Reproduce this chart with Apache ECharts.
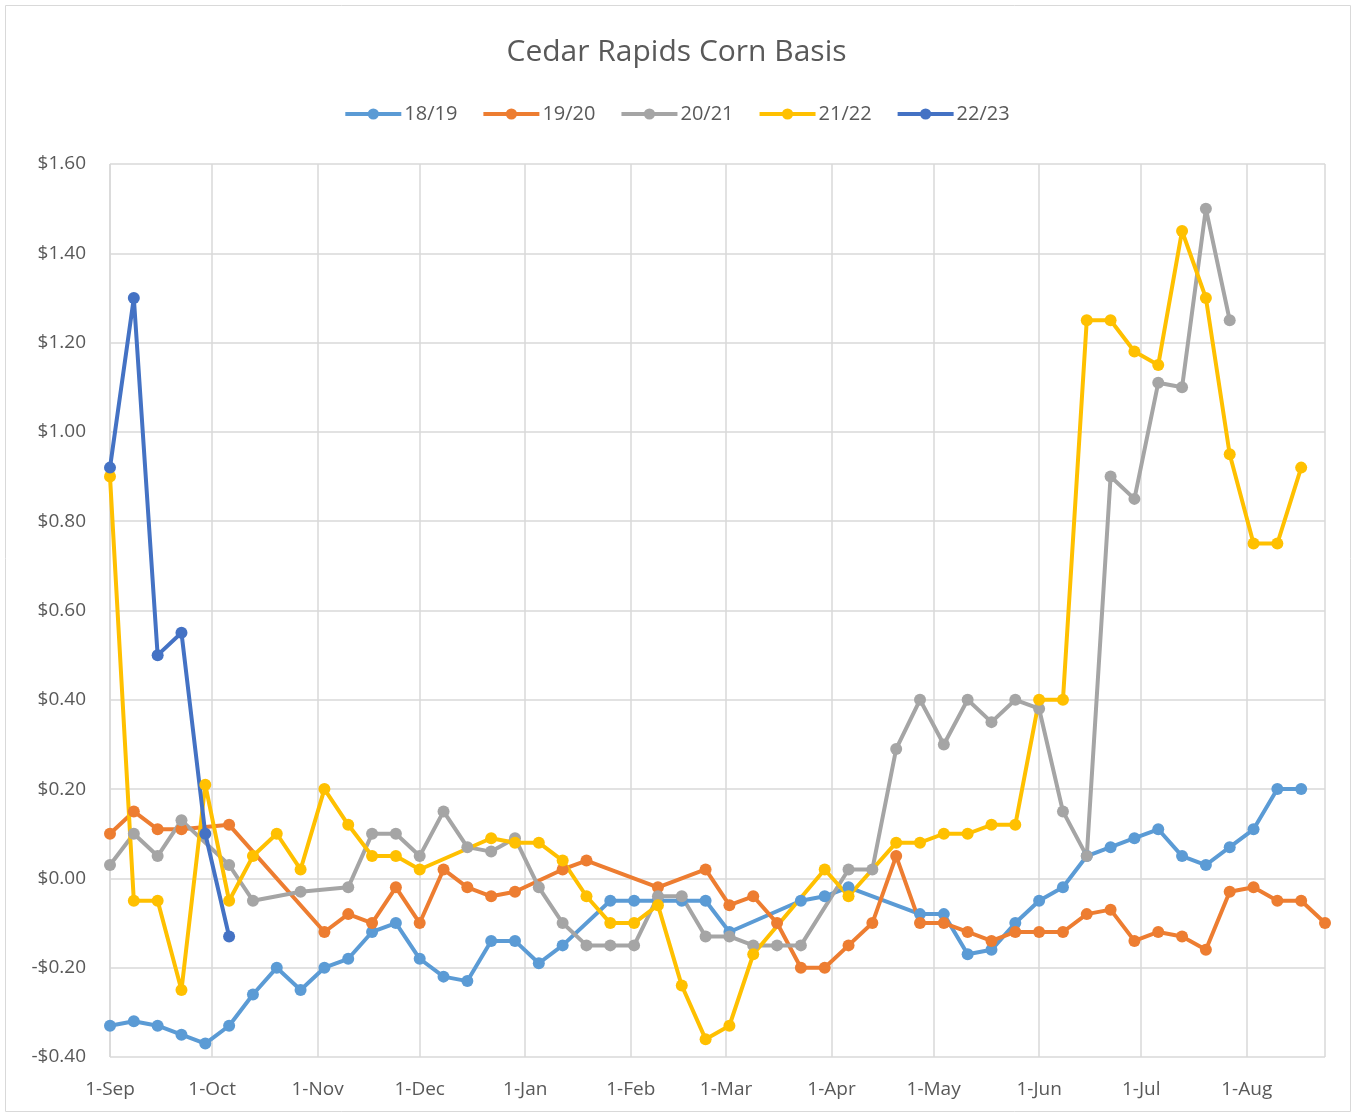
<!DOCTYPE html>
<html>
<head>
<meta charset="utf-8">
<title>Cedar Rapids Corn Basis</title>
<script src="https://cdn.jsdelivr.net/npm/echarts@6/dist/echarts.min.js"></script>
<style>
  html, body { margin: 0; padding: 0; background: #fff; }
  #chart { width: 1353px; height: 1117px; }
</style>
</head>
<body>
<div id="chart"></div>
<script>
// weekly dates, plotted on one marketing year (Sep - Aug)
const weeks = [
  '2018-09-01', '2018-09-08', '2018-09-15', '2018-09-22', '2018-09-29',
  '2018-10-06', '2018-10-13', '2018-10-20', '2018-10-27',
  '2018-11-03', '2018-11-10', '2018-11-17', '2018-11-24',
  '2018-12-01', '2018-12-08', '2018-12-15', '2018-12-22', '2018-12-29',
  '2019-01-05', '2019-01-12', '2019-01-19', '2019-01-26',
  '2019-02-02', '2019-02-09', '2019-02-16', '2019-02-23',
  '2019-03-02', '2019-03-09', '2019-03-16', '2019-03-23', '2019-03-30',
  '2019-04-06', '2019-04-13', '2019-04-20', '2019-04-27',
  '2019-05-04', '2019-05-11', '2019-05-18', '2019-05-25',
  '2019-06-01', '2019-06-08', '2019-06-15', '2019-06-22', '2019-06-29',
  '2019-07-06', '2019-07-13', '2019-07-20', '2019-07-27',
  '2019-08-03', '2019-08-10', '2019-08-17', '2019-08-24'
];
const monthNames = ['Jan', 'Feb', 'Mar', 'Apr', 'May', 'Jun', 'Jul', 'Aug', 'Sep', 'Oct', 'Nov', 'Dec'];

const seasons = ['18/19', '19/20', '20/21', '21/22', '22/23'];
const colors = ['#5B9BD5', '#ED7D31', '#A5A5A5', '#FFC000', '#4472C4'];

// basis in $/bu, null = no quote that week
const basis1819 = [
  -0.33, -0.32, -0.33, -0.35, -0.37,
  -0.33, -0.26, -0.20, -0.25,
  -0.20, -0.18, -0.12, -0.10,
  -0.18, -0.22, -0.23, -0.14, -0.14,
  -0.19, -0.15, null, -0.05,
  -0.05, -0.05, -0.05, -0.05,
  -0.12, null, null, -0.05, -0.04,
  -0.02, null, null, -0.08,
  -0.08, -0.17, -0.16, -0.10,
  -0.05, -0.02, 0.05, 0.07, 0.09,
  0.11, 0.05, 0.03, 0.07,
  0.11, 0.20, 0.20, null
];
const basis1920 = [
  0.10, 0.15, 0.11, 0.11, null,
  0.12, null, null, null,
  -0.12, -0.08, -0.10, -0.02,
  -0.10, 0.02, -0.02, -0.04, -0.03,
  null, 0.02, 0.04, null,
  null, -0.02, null, 0.02,
  -0.06, -0.04, -0.10, -0.20, -0.20,
  -0.15, -0.10, 0.05, -0.10,
  -0.10, -0.12, -0.14, -0.12,
  -0.12, -0.12, -0.08, -0.07, -0.14,
  -0.12, -0.13, -0.16, -0.03,
  -0.02, -0.05, -0.05, -0.10
];
const basis2021 = [
  0.03, 0.10, 0.05, 0.13, null,
  0.03, -0.05, null, -0.03,
  null, -0.02, 0.10, 0.10,
  0.05, 0.15, 0.07, 0.06, 0.09,
  -0.02, -0.10, -0.15, -0.15,
  -0.15, -0.04, -0.04, -0.13,
  -0.13, -0.15, -0.15, -0.15, null,
  0.02, 0.02, 0.29, 0.40,
  0.30, 0.40, 0.35, 0.40,
  0.38, 0.15, 0.05, 0.90, 0.85,
  1.11, 1.10, 1.50, 1.25,
  null, null, null, null
];
const basis2122 = [
  0.90, -0.05, -0.05, -0.25, 0.21,
  -0.05, 0.05, 0.10, 0.02,
  0.20, 0.12, 0.05, 0.05,
  0.02, null, null, 0.09, 0.08,
  0.08, 0.04, -0.04, -0.10,
  -0.10, -0.06, -0.24, -0.36,
  -0.33, -0.17, null, null, 0.02,
  -0.04, null, 0.08, 0.08,
  0.10, 0.10, 0.12, 0.12,
  0.40, 0.40, 1.25, 1.25, 1.18,
  1.15, 1.45, 1.30, 0.95,
  0.75, 0.75, 0.92, null
];
const basis2223 = [0.92, 1.30, 0.50, 0.55, 0.10, -0.13];

const seriesValues = [basis1819, basis1920, basis2021, basis2122, basis2223];

const chart = echarts.init(document.getElementById('chart'));
const font = "'Open Sans', 'Noto Sans', sans-serif";
const textColor = '#595959';

const toPoints = (vals) => {
  const pts = [];
  vals.forEach((v, i) => {
    if (v !== null) pts.push([weeks[i], v]);
  });
  return pts;
};

const money = (v) => {
  const r = Math.round(v * 100) / 100;
  return (r < 0 ? '-$' : '$') + Math.abs(r).toFixed(2);
};

const option = {
  color: colors,
  animation: false,
  textStyle: { fontFamily: font },
  title: {
    text: 'Cedar Rapids Corn Basis',
    left: 'center',
    top: 32,
    textStyle: { fontFamily: font, fontSize: 30, fontWeight: 'normal', color: textColor },
  },
  legend: {
    top: 99,
    left: 'center',
    itemWidth: 56,
    itemHeight: 14,
    itemGap: 24,
    lineStyle: { width: 4 },
    textStyle: { fontFamily: font, fontSize: 20, color: textColor, padding: [0, 0, 0, -2] },
    data: seasons,
  },
  graphic: [
    {
      type: 'rect',
      silent: true,
      shape: { x: 5.5, y: 5.5, width: 1345, height: 1106 },
      style: { fill: 'none', stroke: '#d9d9d9', lineWidth: 1 },
    },
  ],
  grid: {
    left: 110,
    right: 28,
    top: 164,
    bottom: 60,
    containLabel: false,
  },
  xAxis: {
    type: 'time',
    min: weeks[0],
    max: weeks[weeks.length - 1],
    minInterval: 28 * 24 * 3600 * 1000,
    maxInterval: 31 * 24 * 3600 * 1000,
    axisLine: { show: false },
    axisTick: { show: false },
    splitLine: { show: true, lineStyle: { color: '#d9d9d9', width: 1.5 } },
    axisLabel: {
      fontFamily: font,
      fontSize: 19,
      color: textColor,
      margin: 23,
      showMaxLabel: false,
      formatter: (value) => {
        const d = new Date(value);
        return d.getDate() + '-' + monthNames[d.getMonth()];
      },
    },
  },
  yAxis: {
    type: 'value',
    min: -0.4,
    max: 1.6,
    interval: 0.2,
    axisLine: { show: false },
    axisTick: { show: false },
    splitLine: { show: true, lineStyle: { color: '#d9d9d9', width: 1.5 } },
    axisLabel: {
      fontFamily: font,
      fontSize: 19,
      color: textColor,
      margin: 24,
      formatter: money,
    },
  },
  series: seasons.map((name, i) => ({
    name: name,
    type: 'line',
    data: toPoints(seriesValues[i]),
    symbol: 'circle',
    symbolSize: 12,
    lineStyle: { width: 4 },
    itemStyle: { color: colors[i] },
  })),
};

chart.setOption(option);
</script>
</body>
</html>
